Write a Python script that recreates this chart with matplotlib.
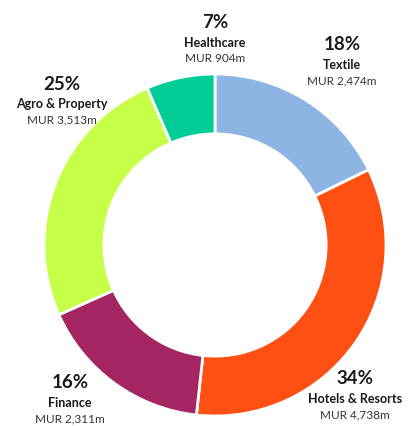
import matplotlib.pyplot as plt

sectors = ['Textile', 'Hotels & Resorts', 'Finance', 'Agro & Property', 'Healthcare']
values = [2474, 4738, 2311, 3513, 904]          # MUR m
pct_labels = ['18%', '34%', '16%', '25%', '7%']
colors = ['#8EB4E3', '#FF4F12', '#A52462', '#C6FF48', '#00CC98']

# label anchor (x, y of the percentage line) in pixel coords, top-left origin
label_pos = [(342, 45), (355, 379), (70, 383), (62, 84), (215, 23)]

W, H = 412, 427
fig = plt.figure(figsize=(W / 100, H / 100), dpi=100)
ax = fig.add_axes([0, 0, 1, 1])

cx, cy, r = 215, 246, 171
ax.pie(values, colors=colors, startangle=90, counterclock=False,
       center=(cx, -cy), radius=r,
       wedgeprops=dict(width=r * 0.35, edgecolor='white', linewidth=2))
# pie works y-up, so use negative y for everything
ax.set_aspect('auto')
ax.set_xlim(0, W)
ax.set_ylim(-H, 0)
ax.axis('off')

font = 'Lato'
for name, v, pct, (x, y) in zip(sectors, values, pct_labels, label_pos):
    ax.text(x, -y, pct, ha='center', va='center', fontsize=13.5,
            fontweight='bold', color='#1a1a1a', family=font)
    ax.text(x, -(y + 20), name, ha='center', va='center', fontsize=9,
            fontweight='bold', color='#1a1a1a', family=font)
    ax.text(x, -(y + 36), f'MUR {v:,}m', ha='center', va='center', fontsize=8.5,
            color='#333333', family=font)

fig.savefig('out.png', dpi=100)
